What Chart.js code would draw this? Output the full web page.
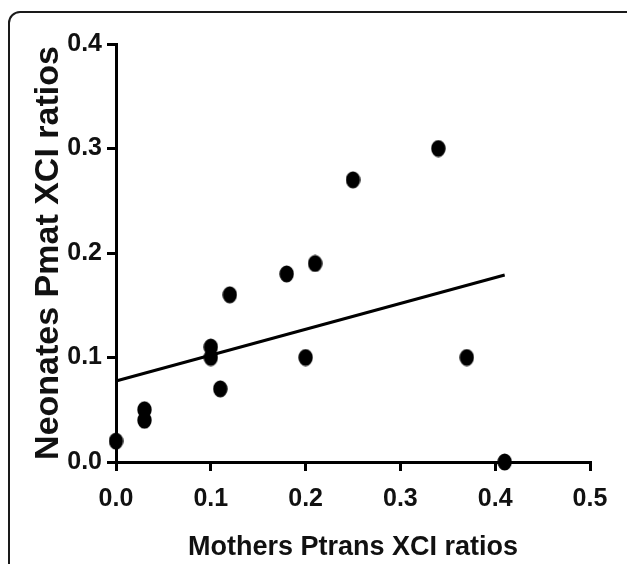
<!DOCTYPE html>
<html>
<head>
<meta charset="utf-8">
<script src="https://cdn.jsdelivr.net/npm/chart.js@4/dist/chart.umd.min.js"></script>
<style>
    body { margin: 0; background: #fff; overflow: hidden; }
    #wrap { position: relative; width: 627px; height: 564px; }
    #wrap canvas { position: absolute; left: 0; top: 0; }
    #frame {
        position: absolute; left: 8px; top: 11px; width: 640px; height: 620px;
        border: 2px solid #1a1a1a; border-radius: 12px; pointer-events: none;
    }
</style>
</head>
<body>
<div id="wrap">
    <canvas id="scatterChart" width="627" height="564"></canvas>
    <div id="frame"></div>
</div>
<script>
// mothers vs neonates XCI ratios
var mothersPtrans = [0.00, 0.03, 0.03, 0.10, 0.10, 0.11, 0.12, 0.18, 0.20, 0.21, 0.25, 0.34, 0.37, 0.41];
var neonatesPmat  = [0.02, 0.05, 0.04, 0.11, 0.10, 0.07, 0.16, 0.18, 0.10, 0.19, 0.27, 0.30, 0.10, 0.00];

// fitted line end points
var fitX = [0, 0.41];
var fitY = [0.0775, 0.179];

var xTicks = [0, 0.1, 0.2, 0.3, 0.4, 0.5];
var yTicks = [0, 0.1, 0.2, 0.3, 0.4];

var fontFamily = "'Liberation Sans', Arial, sans-serif";

// slightly tall dot, like the stretched original
var dot = document.createElement('canvas');
dot.width = 15;
dot.height = 18;
var dctx = dot.getContext('2d');
dctx.fillStyle = '#000';
dctx.beginPath();
dctx.ellipse(7.5, 9, 7.2, 8.6, 0, 0, Math.PI * 2);
dctx.fill();

var points = mothersPtrans.map((x, i) => ({ x: x, y: neonatesPmat[i] }));
var fitLine = fitX.map((x, i) => ({ x: x, y: fitY[i] }));

var axisCommon = {
    type: 'linear',
    grid: {
        drawOnChartArea: false,
        drawTicks: true,
        tickLength: 9,
        tickWidth: 3,
        lineWidth: 3,
        tickColor: '#000'
    },
    border: { display: true, color: '#000', width: 3 }
};

var scatterChart = new Chart('scatterChart', {
    type: 'scatter',
    data: {
        datasets: [{
            label: 'fit',
            type: 'line',
            data: fitLine,
            borderColor: '#000',
            borderWidth: 3,
            pointRadius: 0,
            fill: false,
            clip: false
        }, {
            label: 'XCI ratios',
            data: points,
            pointStyle: dot,
            pointRadius: 8,
            backgroundColor: '#000',
            borderColor: '#000',
            clip: false
        }]
    },
    options: {
        responsive: false,
        animation: false,
        devicePixelRatio: 1,
        layout: { padding: { top: 44, right: 37, left: 0, bottom: 0 } },
        plugins: {
            legend: { display: false },
            tooltip: { enabled: false }
        },
        scales: {
            x: Object.assign({}, axisCommon, {
                min: 0,
                max: 0.5,
                afterBuildTicks: scale => { scale.ticks = xTicks.map(v => ({ value: v })); },
                afterFit: scale => { scale.height = 102; },
                ticks: {
                    color: '#111',
                    padding: 13,
                    font: { family: fontFamily, size: 25, weight: 'bold' },
                    callback: v => v.toFixed(1)
                },
                title: {
                    display: true,
                    text: 'Mothers Ptrans XCI ratios',
                    color: '#111',
                    padding: { top: 0, bottom: 3 },
                    font: { family: fontFamily, size: 27, weight: 'bold', lineHeight: 1 }
                }
            }),
            y: Object.assign({}, axisCommon, {
                min: 0,
                max: 0.4,
                afterBuildTicks: scale => { scale.ticks = yTicks.map(v => ({ value: v })); },
                afterFit: scale => { scale.width = 116; },
                ticks: {
                    color: '#111',
                    padding: 5,
                    font: { family: fontFamily, size: 25, weight: 'bold' },
                    callback: v => v.toFixed(1)
                },
                title: {
                    display: true,
                    text: 'Neonates Pmat XCI ratios',
                    color: '#111',
                    padding: { top: 32, bottom: 0 },
                    font: { family: fontFamily, size: 34, weight: 'bold', lineHeight: 1 }
                }
            })
        }
    }
});
</script>
</body>
</html>
